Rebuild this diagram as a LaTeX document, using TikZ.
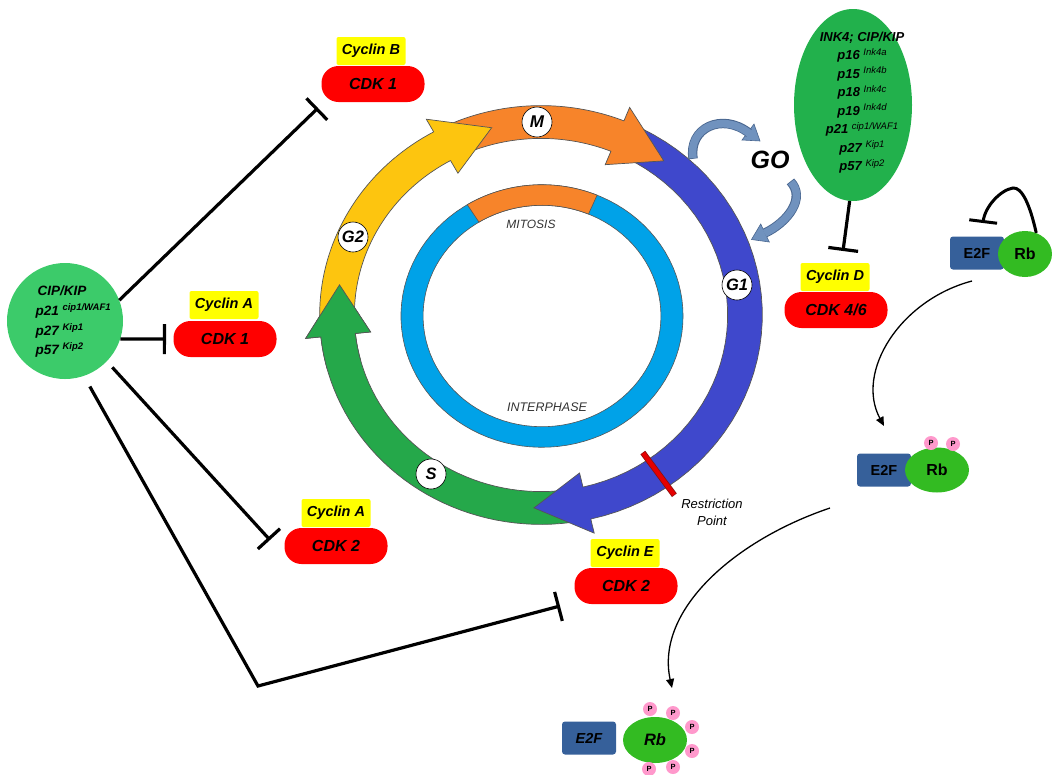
\documentclass[tikz,border=0pt]{standalone}
\usepackage{fontspec}
\setmainfont{Liberation Sans}
\usetikzlibrary{arrows.meta,shapes.geometric}
\definecolor{ringline}{HTML}{555555}
\definecolor{g1blue}{HTML}{3F48CC}
\definecolor{morange}{HTML}{F7842A}
\definecolor{g2yellow}{HTML}{FDC50F}
\definecolor{sgreen}{HTML}{25A84A}
\definecolor{innerblue}{HTML}{00A2E8}
\definecolor{steelc}{HTML}{7092BE}
\definecolor{steeld}{HTML}{4A6790}
\definecolor{cipgreen}{HTML}{3CCB6A}
\definecolor{inkgreen}{HTML}{22B14C}
\definecolor{rbgreen}{HTML}{33BB22}
\definecolor{e2fblue}{HTML}{36609A}
\definecolor{pinkc}{HTML}{FF99CC}
\definecolor{cycy}{HTML}{FFFF00}
\definecolor{cdkred}{HTML}{FF0000}
\definecolor{txtgray}{HTML}{333333}
\definecolor{rpdark}{HTML}{8B1010}
\newcommand\fs[1]{\fontsize{#1}{#1}\selectfont}
\newcommand\supb[1]{\raisebox{4.5pt}{\fs{9.5}#1}}
\newcommand\supr[1]{\raisebox{4.5pt}{\fs{9.5}\mdseries\itshape #1}}
\newcommand\ringseg[4]{%
  \filldraw[fill=#1, draw=ringline, line width=0.7pt]
    plot[domain=#2:#3, samples=40] (\x:1.085) -- (#3:1.16) -- (#4:1) -- (#3:0.84)
    -- plot[domain=#3:#2, samples=40] (\x:0.915) -- cycle;}
\tikzset{
  cyc/.style={fill=cycy, rounded corners=2pt, minimum width=69pt, minimum height=28pt, inner sep=0pt, font=\fs{14.5}\bfseries\itshape},
  cdk/.style={fill=cdkred, rounded corners=17pt, minimum width=103pt, minimum height=36pt, inner sep=0pt, font=\fs{16}\bfseries\itshape},
  inh/.style={line width=3.2pt, -{Bar[width=30pt]}},
  phase/.style={circle, fill=white, draw=black, line width=0.6pt, minimum size=30pt, inner sep=0pt, font=\fs{16.5}\bfseries\itshape},
  e2fbox/.style={fill=e2fblue, rounded corners=3pt, minimum width=54pt, minimum height=33pt, inner sep=0pt, font=\fs{14.5}\bfseries},
  rbell/.style={ellipse, fill=rbgreen, inner sep=0pt, font=\fs{16}\bfseries},
  pst/.style={circle, fill=pinkc, minimum size=14pt, inner sep=0pt, font=\fs{7.5}\bfseries},
  lbl/.style={anchor=base, font=\fs{13}\bfseries\itshape},
  trans/.style={line width=1.3pt, -{Triangle[length=9pt,width=8pt]}},
}
\begin{document}
\begin{tikzpicture}[x=1pt,y=-1pt]
\useasboundingbox (0,0) rectangle (1052,774);
% ---- outer cycle ring
\begin{scope}[shift={(541,315)}, x=204pt, y=193pt]
  \ringseg{sgreen}{-80}{-174}{-189}
  \ringseg{g1blue}{63}{-77}{-92}
  \ringseg{morange}{116}{68}{53}
  \ringseg{g2yellow}{183}{119}{104}
  \fill[sgreen] plot[domain=-165:-174,samples=10] (\x:1.085) -- (-174:1.16) -- (-189:1) -- (-174:0.84) -- plot[domain=-174:-165,samples=10] (\x:0.915) -- cycle;
  \draw[ringline, line width=0.7pt] plot[domain=-165:-174,samples=10] (\x:1.085) -- (-174:1.16) -- (-189:1) -- (-174:0.84) -- plot[domain=-174:-165,samples=10] (\x:0.915);
  \draw[line width=6pt, draw=rpdark] (-55:0.87) -- (-55:1.14);
  \draw[line width=4.4pt, draw=red!90!black] (-55:0.873) -- (-55:1.137);
\end{scope}
% ---- inner ring
\begin{scope}[shift={(542,316)}, x=130pt, y=121pt]
  \filldraw[fill=innerblue, draw=ringline, line width=0.6pt, even odd rule]
    plot[domain=0:360, samples=100] (\x:1.085) -- cycle
    plot[domain=0:360, samples=100] (\x:0.915) -- cycle;
  \filldraw[fill=morange, draw=ringline, line width=0.6pt]
    plot[domain=122:67, samples=30] (\x:1.085) -- plot[domain=67:122, samples=30] (\x:0.915) -- cycle;
\end{scope}
\node[font=\fs{12}\itshape, text=txtgray] (mit) at (531,224) {MITOSIS};
\node[font=\fs{12.5}\itshape, text=txtgray] (interph) at (547,407) {INTERPHASE};
\node[phase, font=\fs{17}\bfseries\itshape] (M) at (537,122) {M};
\node[phase] (G2) at (353,237) {G2};
\node[phase] (S) at (431,474) {S};
\node[phase] (G1) at (737,285) {G1};
\node[font=\fontsize{13}{17}\selectfont\itshape, align=center] (rp) at (712,512) {Restriction\\Point};
% ---- G0 arrows
\fill[steelc, draw=steeld, line width=0.6pt] (760,141) -- (742,140) -- (754,124) -- cycle;
\draw[steeld, line width=9.4pt, shorten <=-0.8pt] (693,158) .. controls (688,128) and (722,112) .. (749,133);
\draw[steelc, line width=7.6pt] (693,158) .. controls (688,128) and (722,112) .. (749.5,133.5);
\fill[steelc, draw=steeld, line width=0.6pt] (751.5,239.5) -- (760.7,224) -- (769.3,242) -- cycle;
\draw[steeld, line width=9.4pt, shorten <=-0.8pt] (791,182) .. controls (806,198) and (788,222) .. (765,233);
\draw[steelc, line width=7.6pt] (791,182) .. controls (806,198) and (788,222) .. (764.5,233.3);
\node[font=\fs{25}\bfseries\itshape] (g0) at (770,160) {GO};
% ---- cyclin / CDK complexes
\node[cdk] (cdk1B) at (373,84) {CDK 1};
\node[cyc] (cycB) at (371,51) {Cyclin B};
\node[cdk] (cdk1A) at (225,339) {CDK 1};
\node[cyc] (cycA1) at (224,305) {Cyclin A};
\node[cdk] (cdk2A) at (336,546) {CDK 2};
\node[cyc] (cycA2) at (336,513) {Cyclin A};
\node[cdk] (cdk2E) at (626,586) {CDK 2};
\node[cyc] (cycE) at (625,553) {Cyclin E};
\node[cdk] (cdk46) at (836,310) {CDK 4/6};
\node[cyc] (cycD) at (835,277) {Cyclin D};
% ---- CIP/KIP circle
\node[circle, fill=cipgreen, minimum size=116pt, inner sep=0pt] (cip) at (65,321) {};
\node[lbl, font=\fs{13.5}\bfseries\itshape] (cipt) at (62,295) {CIP/KIP};
\node[anchor=base west, font=\fs{13.5}\bfseries\itshape] (c21) at (32,315) {p21 \supb{cip1/WAF1}};
\node[anchor=base west, font=\fs{13.5}\bfseries\itshape] (c27) at (32,335) {p27 \supb{Kip1}};
\node[anchor=base west, font=\fs{13.5}\bfseries\itshape] (c57) at (32,354) {p57 \supb{Kip2}};
\coordinate (tB) at (318,108);
\coordinate (tA1) at (166,339);
\coordinate (tA2) at (270,540);
\coordinate (k4) at (258,686);
\coordinate (tE) at (560,606);
\draw[inh] (cip.21) -- (tB);
\draw[inh] (cip.-18) -- (tA1);
\draw[inh, shorten <=8pt] (cip.-44) -- (tA2);
\draw[inh, shorten <=12pt] (cip.-71) -- (k4) -- (tE);
% ---- INK4 ellipse
\node[ellipse, fill=inkgreen, minimum width=118pt, minimum height=192pt, inner sep=0pt] (ink) at (853,105) {};
\node[lbl] (i0) at (862,41) {INK4; CIP/KIP};
\node[lbl] (i1) at (862,59.5) {p16 \supr{Ink4a}};
\node[lbl] (i2) at (862,78) {p15 \supr{Ink4b}};
\node[lbl] (i3) at (862,96.5) {p18 \supr{Ink4c}};
\node[lbl] (i4) at (862,115) {p19 \supr{Ink4d}};
\node[lbl] (i5) at (862,133.5) {p21 \supr{cip1/WAF1}};
\node[lbl] (i6) at (862,152) {p27 \supr{Kip1}};
\node[lbl] (i7) at (862,170.5) {p57 \supr{Kip2}};
\coordinate (tD) at (843,251);
\draw[inh] (ink.268) -- (tD);
% ---- E2F / Rb
\node[e2fbox] (e1) at (977,253) {E2F};
\node[rbell, minimum width=54pt, minimum height=46pt] (rb1) at (1025,254) {Rb};
\coordinate (rbT) at (983,223);
\draw[line width=3pt, -{Bar[width=28pt]}] (rb1.62) .. controls (1030,205) and (1022,187) .. (1013,188) .. controls (1000,190) and (985,207) .. (rbT);
\node[e2fbox] (e2) at (884,470) {E2F};
\node[rbell, minimum width=64pt, minimum height=45pt] (rb2) at (937,470) {Rb};
\node[pst] (p21) at (931,443) {P};
\node[pst] (p22) at (953,444) {P};
\node[e2fbox, font=\fs{14.5}\bfseries\itshape] (e3) at (589,738) {E2F};
\node[rbell, minimum width=64pt, minimum height=46pt, font=\fs{16.5}\bfseries\itshape] (rb3) at (655,740) {Rb};
\node[pst] (p31) at (650,709) {P};
\node[pst] (p32) at (673,713) {P};
\node[pst] (p33) at (692,727) {P};
\node[pst] (p34) at (692,751) {P};
\node[pst] (p35) at (673,767) {P};
\node[pst] (p36) at (649,769) {P};
\coordinate (a1s) at (972,281);
\coordinate (a1e) at (884,426);
\coordinate (a2s) at (830,508);
\coordinate (a2e) at (672,688);
\draw[trans] (a1s) .. controls (900,300) and (855,372) .. (a1e);
\draw[trans] (a2s) .. controls (735,540) and (655,610) .. (a2e);
\end{tikzpicture}
\end{document}
